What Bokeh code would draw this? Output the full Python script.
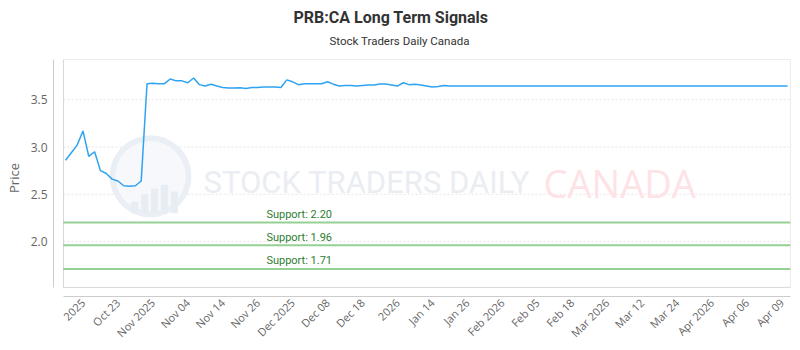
import math
from bokeh.plotting import figure
from bokeh.models import (LinearAxis, FixedTicker, Range1d, Label, Title,
                          BoxAnnotation, ColumnDataSource)
from bokeh.core.properties import value
from bokeh.embed import file_html
from bokeh.resources import INLINE

# ---------------- data ----------------
price = [
    2.86, 2.94, 3.02, 3.17, 2.90, 2.95, 2.75, 2.72, 2.66, 2.64,
    2.59, 2.585, 2.59, 2.64, 3.67, 3.675, 3.67, 3.67, 3.72, 3.70,
    3.70, 3.68, 3.73, 3.66, 3.645, 3.665, 3.645, 3.63, 3.625, 3.625,
    3.627, 3.62, 3.63, 3.63, 3.634, 3.634, 3.634, 3.63, 3.71, 3.69,
    3.66, 3.67, 3.67, 3.67, 3.67, 3.69, 3.665, 3.645, 3.652, 3.652,
    3.645, 3.652, 3.656, 3.656, 3.666, 3.666, 3.656, 3.645, 3.68, 3.66,
    3.663, 3.656, 3.645, 3.634, 3.64, 3.652, 3.645, 3.645, 3.645, 3.645,
    3.645, 3.645, 3.645, 3.645, 3.645, 3.645, 3.645, 3.645, 3.645, 3.645,
    3.645, 3.645, 3.645, 3.645, 3.645, 3.645, 3.645, 3.645, 3.645, 3.645,
    3.645, 3.645, 3.645, 3.645, 3.645, 3.645, 3.645, 3.645, 3.645, 3.645,
    3.645, 3.645, 3.645, 3.645, 3.645, 3.645, 3.645, 3.645, 3.645, 3.645,
    3.645, 3.645, 3.645, 3.645, 3.645, 3.645, 3.645, 3.645, 3.645, 3.645,
    3.645, 3.645, 3.645, 3.645, 3.645,
]
point_index = list(range(len(price)))

tick_positions = [3, 9, 15, 21, 27, 33, 39, 45, 51, 57, 63,
                  69, 75, 81, 87, 93, 99, 105, 111, 117, 123]
tick_labels = ["2025", "Oct 23", "Nov 2025", "Nov 04", "Nov 14", "Nov 26",
               "Dec 2025", "Dec 08", "Dec 18", "2026", "Jan 14", "Jan 26",
               "Feb 2026", "Feb 05", "Feb 18", "Mar 2026", "Mar 12", "Mar 24",
               "Apr 2026", "Apr 06", "Apr 09"]

y_ticks = [2.0, 2.5, 3.0, 3.5]
y_tick_labels = ["2.0", "2.5", "3.0", "3.5"]

support_levels = [2.20, 1.96, 1.71]
support_texts = ["Support: 2.20", "Support: 1.96", "Support: 1.71"]

# visible extremes of the plotting area (x in point index, y in price)
plot_x = (-0.34, 124.5)
plot_y = (1.514, 3.926)

title_text = "PRB:CA Long Term Signals"
subtitle_text = "Stock Traders Daily Canada"

# ---------------- figure ----------------
# the frame is a little larger than the bordered plot area so that the axis
# lines sit apart from the border, as in the reference
p = figure(width=800, height=350, output_backend="svg", toolbar_location=None,
           x_range=Range1d(-2.06, plot_x[1]), y_range=Range1d(1.418, plot_y[1]),
           x_axis_location=None, y_axis_location=None, title=None,
           min_border_left=53, min_border_right=10,
           min_border_top=59, min_border_bottom=54,
           background_fill_color="white", border_fill_color="white")
p.outline_line_color = None
p.xgrid.grid_line_color = None
p.ygrid.grid_line_color = None

# titles (first added sits closest to the plot)
p.add_layout(Title(text=subtitle_text, align="left", offset=276,
                   text_font="Roboto", text_font_size="11.5px",
                   text_font_style="normal", text_color="#333333",
                   standoff=0, padding=(0, 0, 0, 12)), "above")
p.add_layout(Title(text=title_text, align="left", offset=240,
                   text_font="Roboto", text_font_size="16px",
                   text_font_style="bold", text_color="#333333",
                   standoff=0, padding=(0, 0, 0, 5)), "above")

yaxis = LinearAxis(ticker=FixedTicker(ticks=y_ticks), bounds=plot_y,
                   major_label_overrides=dict(zip(y_ticks, y_tick_labels)),
                   axis_line_color="#cccccc", major_tick_line_color=None,
                   minor_tick_line_color=None, major_tick_out=0, major_tick_in=0,
                   major_label_standoff=6,
                   major_label_text_font="Open Sans",
                   major_label_text_font_size="12px",
                   major_label_text_color="#666666",
                   axis_label="Price", axis_label_standoff=5,
                   axis_label_text_font="Open Sans",
                   axis_label_text_font_size="13px",
                   axis_label_text_font_style="normal",
                   axis_label_text_color="#666666")
p.add_layout(yaxis, "left")

xaxis = LinearAxis(ticker=FixedTicker(ticks=tick_positions), bounds=plot_x,
                   major_label_overrides=dict(zip(tick_positions, tick_labels)),
                   major_label_orientation=math.pi / 4,
                   axis_line_color="#cccccc", major_tick_line_color=None,
                   minor_tick_line_color=None, major_tick_out=0, major_tick_in=0,
                   major_label_standoff=4,
                   major_label_text_font="Open Sans",
                   major_label_text_font_size="11px",
                   major_label_text_color="#666666")
p.add_layout(xaxis, "below")

# horizontal grid lines across the bordered plot area
p.segment(x0=plot_x[0], x1=plot_x[1], y0=y_ticks, y1=y_ticks,
          line_color="#e6e6e6", line_width=1, line_dash="2 2")

# ---------------- watermark ----------------
p.annulus(x=[14.6], y=[2.69], inner_radius=35, outer_radius=41,
          inner_radius_units="screen", outer_radius_units="screen",
          fill_color="#eaeff5", line_color=None)
p.circle(x=[14.6], y=[2.69], radius=35, radius_units="screen",
         fill_color="#f6f8fb", line_color=None)
p.vbar(x=[11.9, 13.6, 15.3, 17.0, 18.7], width=1.25,
       top=[2.42, 2.50, 2.56, 2.60, 2.53], bottom=[2.30, 2.30, 2.30, 2.30, 2.30],
       fill_color="#e8edf4", line_color=None)
p.text(x=[23.7], y=[2.62], text=["STOCK TRADERS DAILY"],
       text_font=value("Roboto"), text_font_size="31px",
       text_color="#eaedf2", text_baseline="alphabetic")
p.text(x=[82.1], y=[2.62], text=["CANADA"],
       text_font=value("Open Sans"), text_font_size="38px",
       text_color="#fde3e5", text_baseline="alphabetic")

# ---------------- support lines ----------------
p.segment(x0=plot_x[0], x1=plot_x[1], y0=support_levels, y1=support_levels,
          line_color="#95d095", line_width=2)
for lvl, txt in zip(support_levels, support_texts):
    p.add_layout(Label(x=34.5, y=lvl, text=txt, y_offset=8,
                       text_baseline="alphabetic", text_align="left",
                       text_font="Roboto", text_font_size="11px",
                       text_color="#2e7d32"))

# ---------------- price line ----------------
src = ColumnDataSource(dict(x=point_index, y=price))
p.line("x", "y", source=src, line_color="#2ea3f2", line_width=1.5)

# border of the plotting area
p.add_layout(BoxAnnotation(left=plot_x[0], right=plot_x[1],
                           bottom=plot_y[0], top=plot_y[1],
                           fill_color=None, line_color="#7f7f7f",
                           line_width=1))

open("out.html", "w").write(file_html(p, INLINE))
